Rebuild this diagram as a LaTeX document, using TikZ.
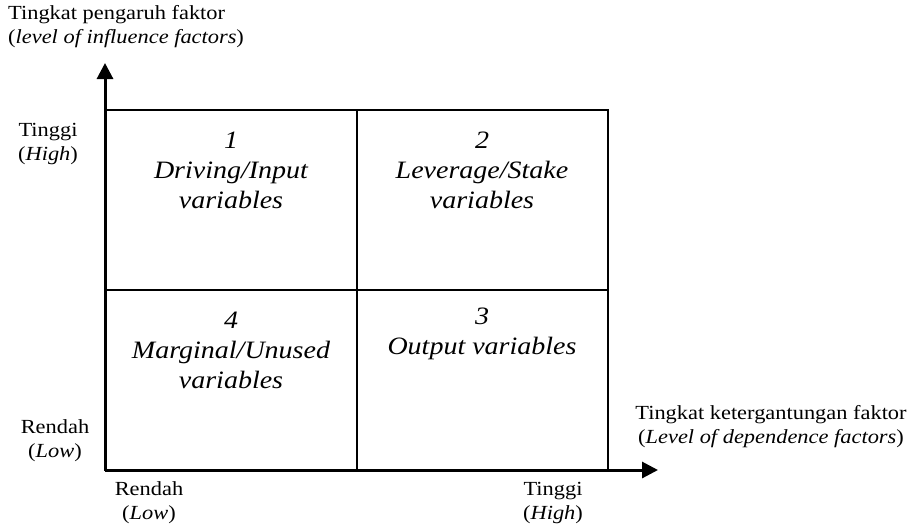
\documentclass[tikz,border=0pt]{standalone}
\usepackage{fontspec}
\setmainfont{Liberation Serif}[FakeStretch=1.12]
\usetikzlibrary{arrows.meta}
\begin{document}
\begin{tikzpicture}[x=1pt,y=-1pt,
    axislbl/.style={font=\fontsize{20}{24}\selectfont,align=center,inner sep=0pt},
    celltxt/.style={font=\fontsize{25}{30}\selectfont\itshape,align=center,inner sep=0pt},
    grid/.style={line width=2pt},
    axis/.style={line width=3pt,-{Triangle[length=16pt,width=16pt]}}]
  \useasboundingbox (0,0) rectangle (915,528);
  \coordinate (origin) at (105,470);
  \coordinate (ytip) at (105,63);
  \coordinate (xtip) at (658,470);
  % quadrants
  \draw[grid] (105,110) rectangle (608,470);
  \draw[grid] (357,110) -- (357,470);
  \draw[grid] (105,290) -- (608,290);
  \node[celltxt] (c1) at (231,170) {1\\Driving/Input\\variables};
  \node[celltxt] (c2) at (482,170) {2\\Leverage/Stake\\variables};
  \node[celltxt] (c4) at (231,350) {4\\Marginal/Unused\\variables};
  \node[celltxt] (c3) at (482,334) {3\\Output variables};
  % axes
  \draw[axis] (origin) -- (ytip);
  \draw[axis] (origin) -- (xtip);
  \node[axislbl,align=left,anchor=north west] (ylbl) at (8,5) {Tingkat pengaruh faktor\\(\textit{level of influence factors})};
  \node[axislbl] (yhigh) at (48,144) {Tinggi\\(\textit{High})};
  \node[axislbl] (ylow) at (55,441) {Rendah\\(\textit{Low})};
  \node[axislbl] (xlow) at (149,503) {Rendah\\(\textit{Low})};
  \node[axislbl] (xhigh) at (553,503) {Tinggi\\(\textit{High})};
  \node[axislbl] (xlbl) at (771,427) {Tingkat ketergantungan faktor\\(\textit{Level of dependence factors})};
\end{tikzpicture}
\end{document}
